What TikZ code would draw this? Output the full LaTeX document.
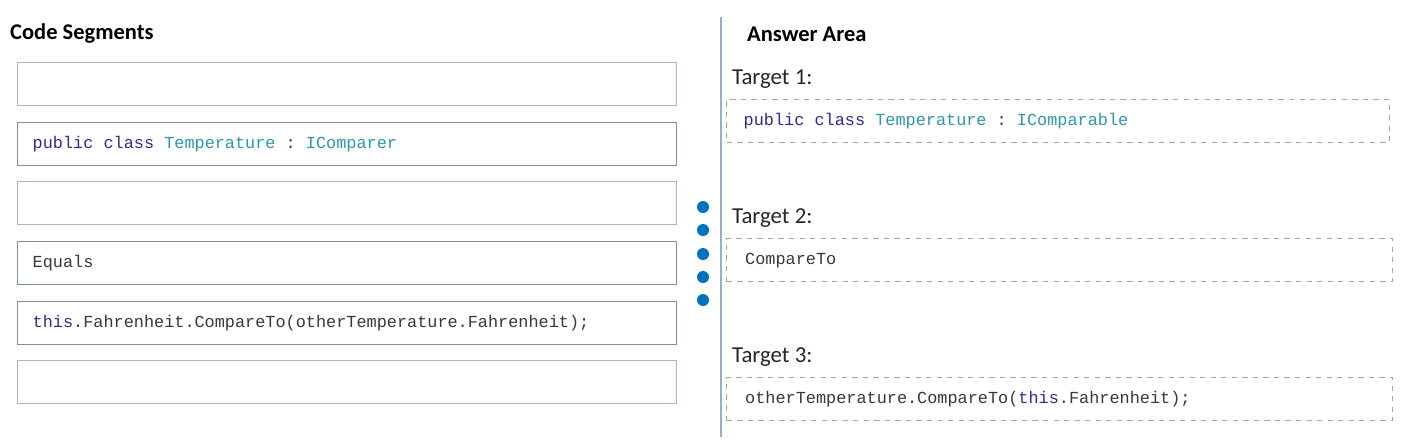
\documentclass[tikz,border=0pt]{standalone}
\usepackage{fontspec}
\setmonofont{Liberation Mono}
\newfontfamily\headfont{Carlito}

\definecolor{kwblue}{RGB}{45,45,145}
\definecolor{typeteal}{RGB}{43,150,175}
\definecolor{codegray}{RGB}{55,55,60}
\definecolor{dotblue}{RGB}{0,112,192}
\definecolor{boxfull}{RGB}{125,145,165}
\definecolor{boxempty}{RGB}{165,185,200}
\definecolor{divline}{RGB}{150,175,200}

\newcommand{\kw}[1]{{\color{kwblue}#1}}
\newcommand{\tp}[1]{{\color{typeteal}#1}}
\newcommand{\tsp}{\hspace{0.6em}}

\tikzset{
	seg/.style={draw=boxempty, line width=0.8pt, minimum width=13.18cm, minimum height=0.86cm, text width=12.58cm, inner xsep=0.3cm, inner ysep=0pt, align=left, anchor=north west, text=codegray, font=\ttfamily\fontsize{9.6}{11}\selectfont},
	segfull/.style={seg, draw=boxfull},
	tgtbox/.style={seg, draw=gray!70, dashed},
	head/.style={anchor=west, font=\headfont\bfseries\fontsize{12.8}{15}\selectfont},
	tgtlabel/.style={anchor=west, text=black!85, font=\headfont\fontsize{13}{15}\selectfont},
	bluedot/.style={circle, fill=dotblue, minimum size=0.24cm, inner sep=0pt}
}

\begin{document}
\begin{tikzpicture}[x=0.02cm, y=-0.02cm]
	\useasboundingbox (0,0) rectangle (1409,441);
	%left column
		\node[head] (codehead) at (4,34) {Code Segments};
		\node[seg] (seg1) at (17,62) {};
		\node[segfull] (seg2) at (17,122) {\kw{public}\tsp\kw{class}\tsp\tp{Temperature}\tsp:\tsp\tp{IComparer}};
		\node[seg] (seg3) at (17,181) {};
		\node[segfull] (seg4) at (17,241) {Equals};
		\node[segfull] (seg5) at (17,301) {\kw{this}.Fahrenheit.CompareTo(otherTemperature.Fahrenheit);};
		\node[seg] (seg6) at (17,360) {};
	% drag handle
		\foreach \i/\y in {1/207,2/230,3/254,4/277,5/300}
			\node[bluedot] (dot\i) at (703,\y) {};
	%divider
		\coordinate (divtop) at (721,17);
		\coordinate (divbot) at (721,437);
		\draw[divline, line width=0.8pt] (divtop) -- (divbot);
	%answer area
		\node[head] (answerhead) at (741,34) {Answer Area};
		\node[tgtlabel] (tlabel1) at (726,79) {Target 1:};
		\node[tgtbox, minimum width=13.26cm] (target1) at (726,99) {\kw{public}\tsp\kw{class}\tsp\tp{Temperature}\tsp:\tsp\tp{IComparable}};
		\node[tgtlabel] (tlabel2) at (726,218) {Target 2:};
		\node[tgtbox, minimum width=13.32cm] (target2) at (726,238) {CompareTo};
		\node[tgtlabel] (tlabel3) at (726,357) {Target 3:};
		\node[tgtbox, minimum width=13.32cm] (target3) at (726,377) {otherTemperature.CompareTo(\kw{this}.Fahrenheit);};
\end{tikzpicture}
\end{document}
